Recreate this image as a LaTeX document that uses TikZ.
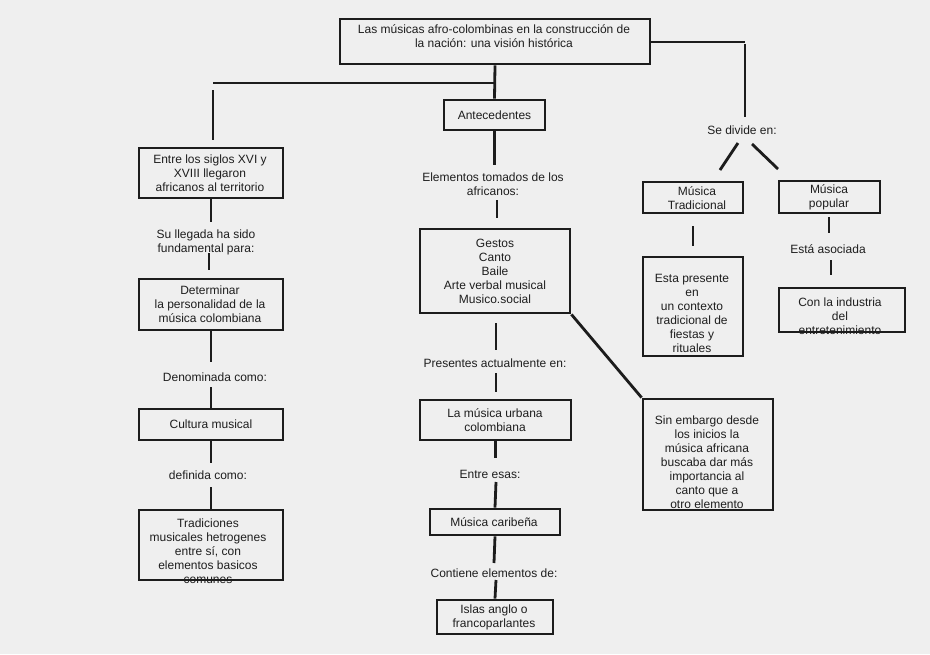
\documentclass[tikz,border=0pt]{standalone}
\usepackage{fontspec}
\setmainfont{Liberation Sans}
\definecolor{bgc}{RGB}{239,239,239}
\definecolor{linec}{RGB}{28,28,28}
\definecolor{textc}{RGB}{30,30,30}
\tikzset{
  box/.style={draw=linec, line width=2.8pt, fill=none, inner sep=0pt},
  txt/.style={align=center, inner sep=0pt, text=textc, font=\fontsize{12}{14}\selectfont},
  conn/.style={draw=linec, line width=2.8pt}
}
\begin{document}
\begin{tikzpicture}[x=1pt,y=-1pt]
\fill[bgc] (0,0) rectangle (930,654);
\useasboundingbox (0,0) rectangle (930,654);

% ---------- boxes ----------
\node[box, minimum width=310pt, minimum height=45pt] (title) at (495,41.5) {};
\node[box, minimum width=101pt, minimum height=30pt] (ante) at (494.5,115) {};
\node[box, minimum width=150pt, minimum height=84pt] (gest) at (495,271) {};
\node[box, minimum width=151pt, minimum height=40pt] (urb) at (495.5,420) {};
\node[box, minimum width=130pt, minimum height=26pt] (carib) at (495,522) {};
\node[box, minimum width=116pt, minimum height=34pt] (islas) at (495,617) {};
\node[box, minimum width=144pt, minimum height=50pt] (sig) at (211,173) {};
\node[box, minimum width=144pt, minimum height=51pt] (det) at (211,304.5) {};
\node[box, minimum width=144pt, minimum height=31pt] (cult) at (211,424.5) {};
\node[box, minimum width=144pt, minimum height=70pt] (trad) at (211,545) {};
\node[box, minimum width=100pt, minimum height=31pt] (mtrad) at (693,197.5) {};
\node[box, minimum width=100pt, minimum height=99pt] (pres) at (693,306.5) {};
\node[box, minimum width=101pt, minimum height=32pt] (mpop) at (829.5,197) {};
\node[box, minimum width=126pt, minimum height=44pt] (ind) at (842,310) {};
\node[box, minimum width=130pt, minimum height=111pt] (sin) at (708,454.5) {};

% ---------- texts ----------
\node[txt] (ttitle) at (494,36) {Las músicas afro-colombinas en la construcción de\\la nación: una visión histórica};
\node[txt] (tante) at (494.5,115) {Antecedentes};
\node[txt] (tgest) at (495,271) {Gestos\\Canto\\Baile\\Arte verbal musical\\Musico.social};
\node[txt] (turb) at (495,420) {La música urbana\\colombiana};
\node[txt] (tcarib) at (494,522.5) {Música caribeña};
\node[txt] (tislas) at (494,617) {Islas anglo o\\francoparlantes};
\node[txt] (tsig) at (210,173) {Entre los siglos XVI y\\XVIII llegaron\\africanos al territorio};
\node[txt] (tdet) at (210,304.5) {Determinar\\la personalidad de la\\música colombiana};
\node[txt] (tcult) at (211,424.5) {Cultura musical};
\node[txt] (ttrad) at (208,551) {Tradiciones\\musicales hetrogenes\\entre sí, con\\elementos basicos\\comunes};
\node[txt] (tmtrad) at (697,198) {Música\\Tradicional};
\node[txt] (tpres) at (692,313.5) {Esta presente\\en\\un contexto\\tradicional de\\fiestas y\\rituales};
\node[txt] (tmpop) at (829,197) {Música\\popular};
\node[txt] (tind) at (840,316.5) {Con la industria\\del\\entretenimiento};
\node[txt] (tsin) at (707,462) {Sin embargo desde\\los inicios la\\música africana\\buscaba dar más\\importancia al\\canto que a\\otro elemento};

% ---------- free labels ----------
\node[txt] (lsediv) at (742,130) {Se divide en:};
\node[txt] (lelem) at (493,184.5) {Elementos tomados de los\\africanos:};
\node[txt] (lpres) at (495,363) {Presentes actualmente en:};
\node[txt] (lentre) at (490,474) {Entre esas:};
\node[txt] (lcont) at (494,573) {Contiene elementos de:};
\node[txt] (lsu) at (206,242.5) {Su llegada ha sido\\fundamental para:};
\node[txt] (lden) at (215,377) {Denominada como:};
\node[txt] (ldef) at (208,475) {definida como:};
\node[txt] (lasoc) at (828,249) {Está asociada};

% ---------- connector end points ----------
\coordinate (j1) at (494,83);
\coordinate (j2) at (213,83);
\coordinate (k1) at (213,90);
\coordinate (k2) at (213,140);
\coordinate (r1) at (745,42);
\coordinate (r2) at (745,44);
\coordinate (r3) at (745,117);
\coordinate (d1a) at (738,143);
\coordinate (d1b) at (720,170);
\coordinate (d2a) at (752,144);
\coordinate (d2b) at (778,169);
\coordinate (m1a) at (693,226);
\coordinate (m1b) at (693,246);
\coordinate (p1a) at (829,217);
\coordinate (p1b) at (829,233);
\coordinate (p2a) at (831,260);
\coordinate (p2b) at (831,275);
\coordinate (a1) at (494.5,165);
\coordinate (e1a) at (497,200);
\coordinate (e1b) at (497,218);
\coordinate (g1a) at (496,323);
\coordinate (g1b) at (496,350);
\coordinate (g2a) at (496,373);
\coordinate (g2b) at (496,392);
\coordinate (u1) at (495.5,458);
\coordinate (c1a) at (496,482);
\coordinate (c2) at (494,563);
\coordinate (i1a) at (496,580);
\coordinate (s1) at (211,222);
\coordinate (s2a) at (209,253);
\coordinate (s2b) at (209,270);
\coordinate (dd1) at (211,362);
\coordinate (dd2) at (211,387);
\coordinate (cc1) at (211,463);
\coordinate (cc2) at (211,487);

% ---------- connectors ----------
\draw[conn] (title.south) -- (ante.north);
\draw[conn] (j1) -- (j2);
\draw[conn] (k1) -- (k2);
\draw[conn] (title.east |- r1) -- (r1);
\draw[conn] (r2) -- (r3);
\draw[conn] (d1a) -- (d1b);
\draw[conn] (d2a) -- (d2b);
\draw[conn] (m1a) -- (m1b);
\draw[conn] (p1a) -- (p1b);
\draw[conn] (p2a) -- (p2b);
\draw[conn] (ante.south) -- (a1);
\draw[conn] (e1a) -- (e1b);
\draw[conn] (gest.south east) -- (sin.north west);
\draw[conn] (g1a) -- (g1b);
\draw[conn] (g2a) -- (g2b);
\draw[conn] (urb.south) -- (u1);
\draw[conn] (c1a) -- (carib.north);
\draw[conn] (carib.south) -- (c2);
\draw[conn] (i1a) -- (islas.north);
\draw[conn] (sig.south) -- (s1);
\draw[conn] (s2a) -- (s2b);
\draw[conn] (det.south) -- (dd1);
\draw[conn] (dd2) -- (cult.north);
\draw[conn] (cult.south) -- (cc1);
\draw[conn] (cc2) -- (trad.north);
\end{tikzpicture}
\end{document}
